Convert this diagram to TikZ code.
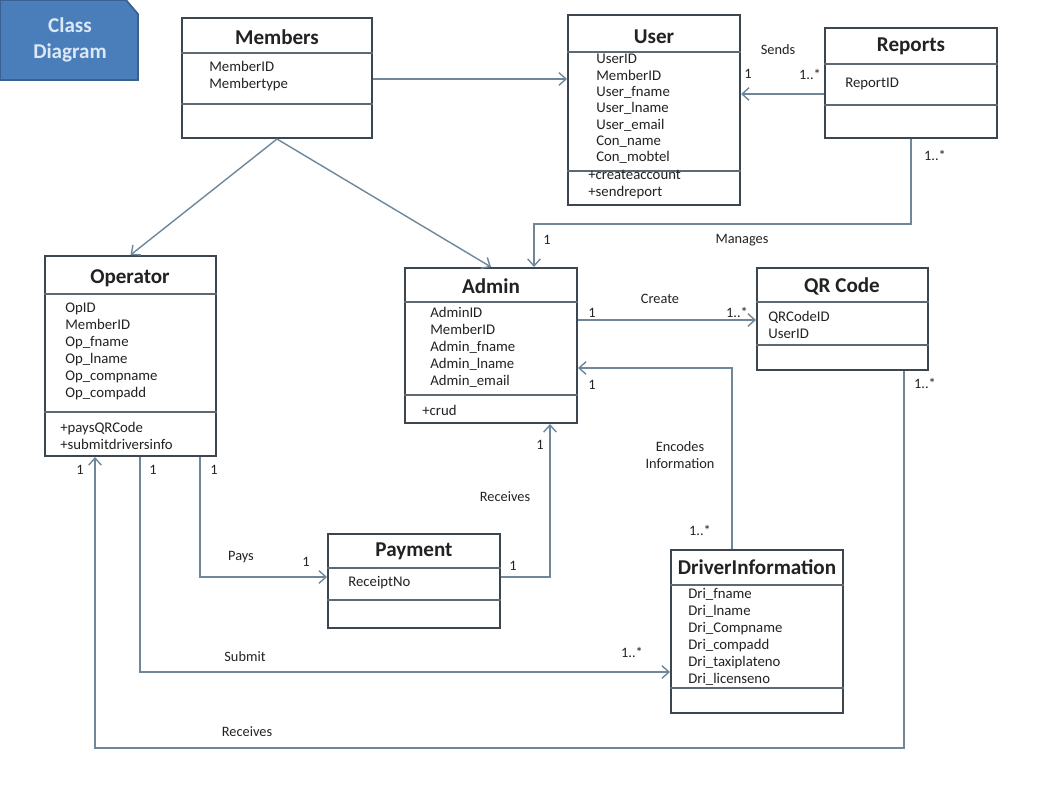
\documentclass[tikz,border=0pt]{standalone}
\usepackage{fontspec}
\setmainfont{Carlito}
\usetikzlibrary{arrows.meta}
\definecolor{boxline}{HTML}{3C4650}
\definecolor{sepline}{HTML}{5E6A72}
\definecolor{linkcol}{HTML}{6F8799}
\definecolor{badgefill}{HTML}{4A7EBB}
\definecolor{badgeline}{HTML}{3A6090}
\definecolor{badgetext}{HTML}{DCE8F5}
\definecolor{inkcol}{HTML}{222222}

\begin{document}
\begin{tikzpicture}[x=0.025cm,y=-0.025cm,>={Straight Barb[length=5pt,width=9pt]},
  cls/.style={draw=boxline,line width=1.4pt,fill=white,inner sep=0pt},
  ttl/.style={font=\fontsize{15}{18}\selectfont\bfseries,text=inkcol},
  attr/.style={anchor=west,align=left,inner sep=0pt,text=inkcol,font=\fontsize{10.5}{12.1}\selectfont},
  lbl/.style={text=inkcol,font=\fontsize{10.2}{12.5}\selectfont},
  sep/.style={draw=sepline,line width=0.9pt},
  link/.style={draw=linkcol,line width=1pt,->}]
\useasboundingbox (0,0) rectangle (1050,797);

% badge
\draw[fill=badgefill,draw=badgeline,line width=1.2pt] (0,0) -- (126,0) -- (138,14) -- (138,80) -- (0,80) -- cycle;
\node[text=badgetext,align=center,font=\fontsize{15}{18}\selectfont\bfseries] (badge) at (70,40) {Class\\Diagram};

% classes
\node[cls,minimum width=4.75cm,minimum height=3cm] (members) at (277,78) {};
\node[cls,minimum width=4.3cm,minimum height=4.75cm] (user) at (654,110) {};
\node[cls,minimum width=4.3cm,minimum height=2.75cm] (reports) at (911,83) {};
\node[cls,minimum width=4.275cm,minimum height=5cm] (operator) at (130.5,356) {};
\node[cls,minimum width=4.3cm,minimum height=3.875cm] (admin) at (491,345.5) {};
\node[cls,minimum width=4.275cm,minimum height=2.55cm] (qrcode) at (842.5,319) {};
\node[cls,minimum width=4.3cm,minimum height=2.35cm] (payment) at (414,581) {};
\node[cls,minimum width=4.3cm,minimum height=4.075cm] (driver) at (757,631.5) {};

% compartments
\draw[sep] (members.west |- 0,53) -- (members.east |- 0,53);
\draw[sep] (members.west |- 0,104) -- (members.east |- 0,104);
\draw[sep] (user.west |- 0,52) -- (user.east |- 0,52);
\draw[sep] (user.west |- 0,171) -- (user.east |- 0,171);
\draw[sep] (reports.west |- 0,64) -- (reports.east |- 0,64);
\draw[sep] (reports.west |- 0,105) -- (reports.east |- 0,105);
\draw[sep] (operator.west |- 0,294) -- (operator.east |- 0,294);
\draw[sep] (operator.west |- 0,412) -- (operator.east |- 0,412);
\draw[sep] (admin.west |- 0,302) -- (admin.east |- 0,302);
\draw[sep] (admin.west |- 0,395) -- (admin.east |- 0,395);
\draw[sep] (qrcode.west |- 0,302) -- (qrcode.east |- 0,302);
\draw[sep] (qrcode.west |- 0,345) -- (qrcode.east |- 0,345);
\draw[sep] (payment.west |- 0,568) -- (payment.east |- 0,568);
\draw[sep] (payment.west |- 0,600) -- (payment.east |- 0,600);
\draw[sep] (driver.west |- 0,585) -- (driver.east |- 0,585);
\draw[sep] (driver.west |- 0,688) -- (driver.east |- 0,688);

% names
\node[ttl] (members-t) at (277,37) {Members};
\node[ttl] (user-t) at (654,37) {User};
\node[ttl] (reports-t) at (911,46) {Reports};
\node[ttl] (operator-t) at (130,278) {Operator};
\node[ttl] (admin-t) at (491,286) {Admin};
\node[ttl] (qrcode-t) at (842,286) {QR Code};
\node[ttl] (payment-t) at (414,551) {Payment};
\node[ttl] (driver-t) at (757,567) {DriverInformation};

% attributes and operations
\node[attr] (members-a) at (209,76) {MemberID\\Membertype};
\node[attr,font=\fontsize{10.5}{11.6}\selectfont] (user-a) at (596,109) {UserID\\MemberID\\User\_fname\\User\_lname\\User\_email\\Con\_name\\Con\_mobtel};
\node[attr,font=\fontsize{10.5}{11.6}\selectfont] (user-o) at (588,184.5) {+createaccount\\+sendreport};
\node[attr] (reports-a) at (845,84) {ReportID};
\node[attr] (operator-a) at (65,351) {OpID\\MemberID\\Op\_fname\\Op\_lname\\Op\_compname\\Op\_compadd};
\node[attr] (operator-o) at (60,436) {+paysQRCode\\+submitdriversinfo};
\node[attr] (admin-a) at (430,347) {AdminID\\MemberID\\Admin\_fname\\Admin\_lname\\Admin\_email};
\node[attr] (admin-o) at (422,410) {+crud};
\node[attr] (qrcode-a) at (768,324.5) {QRCodeID\\UserID};
\node[attr] (payment-a) at (348,583) {ReceiptNo};
\node[attr] (driver-a) at (688,637) {Dri\_fname\\Dri\_lname\\Dri\_Compname\\Dri\_compadd\\Dri\_taxiplateno\\Dri\_licenseno};

% associations
\draw[link] (members.east |- 0,79) -- (user.west |- 0,79);
\draw[link] (reports.west |- 0,94) -- (user.east |- 0,94);
\draw[link] (members.south) -- (operator.north);
\draw[link] (members.south) -- (admin.north);
\draw[link] (reports.south) |- (534,224) -- (admin.north -| 534,0);
\draw[link] (admin.east |- 0,320) -- (qrcode.west |- 0,320);
\draw[link] (driver.north -| 732,0) |- (admin.east |- 0,368);
\draw[link] (qrcode.south -| 904,0) |- (95,748) -- (operator.south -| 95,0);
\draw[link] (operator.south -| 140,0) |- (driver.west |- 0,672);
\draw[link] (operator.south -| 200,0) |- (payment.west |- 0,577);
\draw[link] (payment.east |- 0,577) -| (admin.south -| 550,0);

% labels
\node[lbl] (sends) at (778,50) {Sends};
\node[lbl] (sends-1) at (748,74) {1};
\node[lbl] (sends-n) at (810,74) {1..*};
\node[lbl] (manages-n) at (935,155) {1..*};
\node[lbl] (manages) at (742,240) {Manages};
\node[lbl] (manages-1) at (547,240) {1};
\node[lbl] (create) at (660,299) {Create};
\node[lbl] (create-1) at (592,313) {1};
\node[lbl] (create-n) at (737,312) {1..*};
\node[lbl] (encodes-1) at (592,385) {1};
\node[lbl,align=center] (encodes) at (680,455) {Encodes\\Information};
\node[lbl] (encodes-n) at (700,530) {1..*};
\node[lbl] (recv-n) at (925,383) {1..*};
\node[lbl] (recv-1) at (80,470) {1};
\node[lbl] (submit-1) at (153,470) {1};
\node[lbl] (pays-1) at (214,470) {1};
\node[lbl] (recv) at (247,732) {Receives};
\node[lbl] (submit) at (245,657) {Submit};
\node[lbl] (submit-n) at (632,652) {1..*};
\node[lbl] (pays) at (241,557) {Pays};
\node[lbl] (pays-p) at (306,562) {1};
\node[lbl] (paid-1) at (513,566) {1};
\node[lbl] (paid) at (505,497) {Receives};
\node[lbl] (paid-a) at (540,445) {1};
\end{tikzpicture}
\end{document}
